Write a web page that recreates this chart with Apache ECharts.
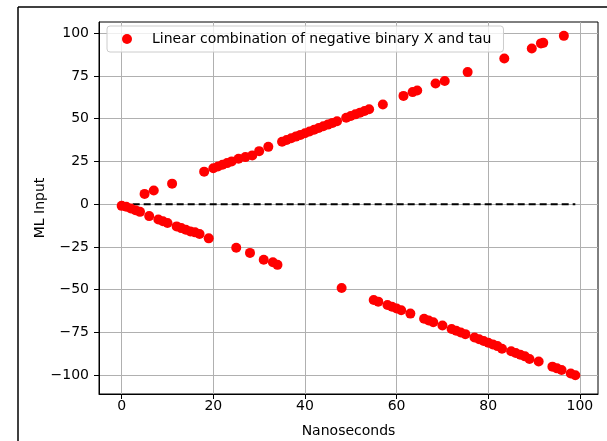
<!DOCTYPE html>
<html>
<head>
<meta charset="utf-8">
<title>ML Input vs Nanoseconds</title>
<script src="https://cdn.jsdelivr.net/npm/echarts@6.0.0/dist/echarts.min.js"></script>
<style>
  html, body { margin: 0; padding: 0; background: #ffffff; }
  #chart { width: 607px; height: 441px; }
</style>
</head>
<body>
<div id="chart"></div>
<script>
// Sample times (ns) and the ML input value recorded at each one
const nanoseconds = [
  0, 1, 2, 3, 4, 5, 6, 7, 8, 9, 10, 11, 12, 13, 14, 15, 16, 17, 18, 19,
  20, 21, 22, 23, 24, 25, 25.5, 27, 28, 28.5, 30, 31, 32, 33, 34, 35, 36, 37, 38, 39,
  40, 41, 42, 43, 44, 45, 46, 47, 48, 49, 50, 51, 52, 53, 54, 55, 56, 57, 58, 59,
  60, 61, 61.5, 63, 63.5, 64.5, 66, 67, 68, 68.5, 70, 70.5, 72, 73, 74, 75, 75.5, 77, 78, 79,
  80, 81, 82, 83, 83.5, 85, 86, 87, 88, 89, 89.5, 91, 91.5, 92, 94, 95, 96, 96.5, 98, 99
];
const mlInput = [
  -1, -1.5, -2.5, -3.5, -4.5, 6, -7, 8, -9, -10, -11, 12, -13, -14, -15, -16, -16.5, -17.5, 19, -20,
  21, 22, 23, 24, 25, -25.5, 26.5, 27.5, -28.5, 28.5, 31, -32.5, 33.5, -34, -35.5, 36.5, 37.5, 38.5, 39.5, 40.5,
  41.5, 42.5, 43.5, 44.5, 45.5, 46.5, 47.5, 48.5, -49, 50.5, 51.5, 52.5, 53.5, 54.5, 55.5, -56, -57, 58.3, -59, -60,
  -61, -62, 63.3, -64, 65.5, 66.5, -67, -68, -69, 70.5, -71, 72, -73, -74, -75, -76, 77.2, -78, -79, -80,
  -81, -82, -83, -84.5, 85.2, -86, -87, -88, -89, -90.5, 91, -92, 94, 94.3, -95, -96, -97, 98.4, -99, -100
];
const seriesName = 'Linear combination of negative binary X and tau';
const xTicks = [0, 20, 40, 60, 80, 100];
const yTicks = [-100, -75, -50, -25, 0, 25, 50, 75, 100];
const zeroLineX = [0, 99];

const points = nanoseconds.map((t, i) => [t, mlInput[i]]);
const zeroLine = zeroLineX.map(t => [t, 0]);
const minus = v => String(v).replace('-', '\u2212');

const font = 'DejaVu Sans';
const chart = echarts.init(document.getElementById('chart'), null, { renderer: 'canvas' });

chart.setOption({
  animation: false,
  backgroundColor: '#ffffff',
  textStyle: { fontFamily: font },
  graphic: [
    { type: 'line', shape: { x1: 18, y1: 7, x2: 607, y2: 7 }, style: { stroke: '#000', lineWidth: 1.5 } },
    { type: 'line', shape: { x1: 18, y1: 7, x2: 18, y2: 441 }, style: { stroke: '#000', lineWidth: 1.5 } }
  ],
  grid: {
    left: 99, right: 9, top: 22, bottom: 47,
    outerBoundsMode: 'none',
    containLabel: false,
    show: true, borderColor: '#000', borderWidth: 1, backgroundColor: 'transparent'
  },
  legend: {
    data: [seriesName],
    left: 107, top: 26,
    orient: 'horizontal',
    itemWidth: 10, itemHeight: 10, itemGap: 8,
    padding: [6, 12, 6, 15],
    backgroundColor: 'rgba(255,255,255,0.8)',
    borderColor: '#cccccc', borderWidth: 1, borderRadius: 3,
    textStyle: { fontFamily: font, fontSize: 14, color: '#000', padding: [0, 0, 0, 15] }
  },
  xAxis: {
    type: 'value',
    min: -4.95, max: 103.95,
    name: 'Nanoseconds', nameLocation: 'middle', nameGap: 30,
    nameTextStyle: { fontFamily: font, fontSize: 14, color: '#000' },
    axisLine: { show: true, onZero: false, lineStyle: { color: '#000', width: 1 } },
    axisTick: { show: true, inside: false, length: 5, customValues: xTicks, lineStyle: { color: '#000' } },
    axisLabel: { customValues: xTicks, margin: 5, fontFamily: font, fontSize: 14, color: '#000', formatter: minus },
    splitLine: { show: true, lineStyle: { color: '#b0b0b0', width: 1 } }
  },
  yAxis: {
    type: 'value',
    min: -111, max: 106.5,
    name: 'ML Input', nameLocation: 'middle', nameGap: 52, nameRotate: 90,
    nameMoveOverlap: false,
    nameTextStyle: { fontFamily: font, fontSize: 14, color: '#000' },
    axisLine: { show: true, onZero: false, lineStyle: { color: '#000', width: 1 } },
    axisTick: { show: true, inside: false, length: 5, customValues: yTicks, lineStyle: { color: '#000' } },
    axisLabel: { customValues: yTicks, margin: 10, fontFamily: font, fontSize: 14, color: '#000', formatter: minus },
    splitLine: { show: true, lineStyle: { color: '#b0b0b0', width: 1 } }
  },
  series: [
    {
      name: 'zero',
      type: 'line',
      data: zeroLine,
      symbol: 'none',
      silent: true,
      lineStyle: { color: '#000', width: 2, type: [7, 4] },
      z: 3
    },
    {
      name: seriesName,
      type: 'scatter',
      data: points,
      symbol: 'circle',
      symbolSize: 10,
      itemStyle: { color: '#ff0000', opacity: 1 },
      z: 4
    }
  ]
});
</script>
</body>
</html>
